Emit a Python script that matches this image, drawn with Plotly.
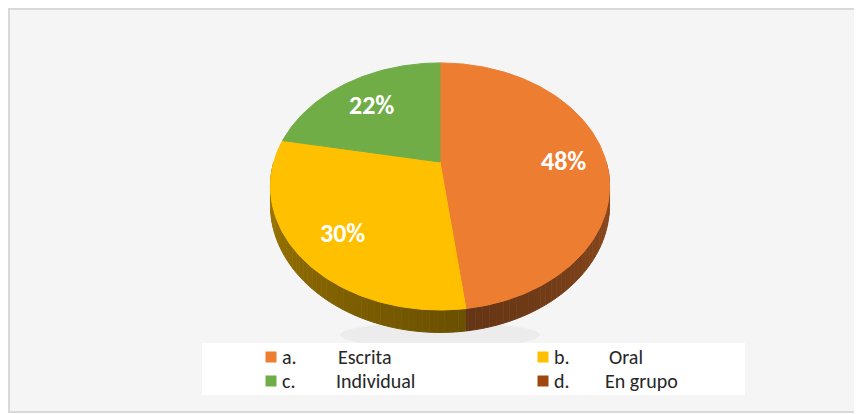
import numpy as np
import plotly.graph_objects as go

# ---- data ----
categories = ["Escrita", "Oral", "Individual", "En grupo"]
letters = ["a.", "b.", "c.", "d."]
values = [48, 30, 22, 0]
colors = ["#ED7D31", "#FFC000", "#70AD47", "#9E480E"]

# ---- layout constants (pixel-mapped axes; page has an 8px body margin) ----
W, H = 862, 414
OFF = 8
CX, CY = 440, 162          # pie centre (projected)
BX, AY, K = 166.2, 118.7, 0.198   # perspective ellipse params
DEPTH = 18
LABEL_R = 0.74
FONT = "Carlito, Calibri, Lato, sans-serif"


def proj(theta, r=1.0):
    t = np.radians(theta)
    u, v = r * np.sin(t), r * np.cos(t)
    s = 1 + K * v
    return CX + BX * u / s, CY - AY * v / s


def proj_bottom(theta):
    x, y = proj(theta)
    v = np.cos(np.radians(theta))
    return x, y + DEPTH / (1 + K * v)


def hex_rgb(h):
    h = h.lstrip("#")
    return tuple(int(h[i:i + 2], 16) for i in (0, 2, 4))


def shade(hexc, f):
    r, g, b = hex_rgb(hexc)
    return "rgb(%d,%d,%d)" % (r * f, g * f, b * f)


fig = go.Figure()

total = sum(values)
bounds = []
acc = 0.0
for v in values:
    start = acc / total * 360
    acc += v
    end = acc / total * 360
    bounds.append((start, end))

# side walls (front half only)
for (start, end), col, v in zip(bounds, colors, values):
    if v == 0:
        continue
    a0, a1 = max(start, 90), min(end, 270)
    if a1 <= a0:
        continue
    edges = list(np.arange(a0, a1, 2.0)) + [a1]
    for t1, t2 in zip(edges[:-1], edges[1:]):
        ts = np.linspace(t1, t2, 4)
        xt, yt = proj(ts)
        xb, yb = proj_bottom(ts[::-1])
        mid = (t1 + t2) / 2
        f = 0.42 + 0.2 * min(abs(mid - 175), 90) / 85
        c = shade(col, f)
        fig.add_trace(go.Scatter(
            x=list(xt) + list(xb), y=list(yt) + list(yb),
            fill="toself", fillcolor=c, mode="lines",
            line=dict(color=c, width=1), hoverinfo="skip", showlegend=False))

# top faces
for (start, end), col, v, name in zip(bounds, colors, values, categories):
    if v == 0:
        continue
    ts = np.linspace(start, end, max(int(end - start) + 2, 3))
    xs, ys = proj(ts)
    fig.add_trace(go.Scatter(
        x=[CX] + list(xs) + [CX], y=[CY] + list(ys) + [CY],
        fill="toself", fillcolor=col, mode="lines",
        line=dict(color=col, width=1), name=name,
        hoverinfo="skip", showlegend=False))

# percentage labels
for (start, end), v in zip(bounds, values):
    if v == 0:
        continue
    lx, ly = proj((start + end) / 2, LABEL_R)
    fig.add_annotation(x=lx, y=ly, text="<b>%d%%</b>" % v, showarrow=False,
                       font=dict(family=FONT, size=26, color="white"),
                       xanchor="center", yanchor="middle", yshift=-4, xshift=2)

# custom legend
leg_sq_x = [271, 543, 271, 543]
leg_y = [357, 357, 381, 381]
leg_letter_x = [280, 552, 280, 552]
leg_name_x = [336, 607, 334, 603]
fig.add_trace(go.Scatter(
    x=leg_sq_x, y=leg_y, mode="markers",
    marker=dict(symbol="square", size=11, color=colors, line=dict(width=0)),
    hoverinfo="skip", showlegend=False))
for i, (lt, nm) in enumerate(zip(letters, categories)):
    fig.add_annotation(x=leg_letter_x[i], y=leg_y[i], text=lt, showarrow=False,
                       xanchor="left", yanchor="middle",
                       font=dict(family=FONT, size=20, color="#262626"))
    fig.add_annotation(x=leg_name_x[i], y=leg_y[i], text=nm, showarrow=False,
                       xanchor="left", yanchor="middle",
                       font=dict(family=FONT, size=20, color="#262626"))

fig.update_layout(
    width=W - OFF, height=H - OFF,
    margin=dict(l=0, r=0, t=0, b=0),
    paper_bgcolor="white", plot_bgcolor="white",
    xaxis=dict(range=[OFF, W], visible=False, fixedrange=True),
    yaxis=dict(range=[H, OFF], visible=False, fixedrange=True),
    showlegend=False,
    shapes=[
        dict(type="rect", xref="x", yref="y", x0=9, y0=9, x1=855, y1=412,
             fillcolor="#f5f5f5", line=dict(color="#d9d9d9", width=2), layer="below"),
        dict(type="circle", xref="x", yref="y", x0=340, y0=322, x1=540, y1=348,
             fillcolor="rgba(0,0,0,0.035)", line=dict(width=0), layer="below"),
        dict(type="rect", xref="x", yref="y", x0=202, y0=343, x1=745, y1=395,
             fillcolor="white", line=dict(width=0), layer="below"),
    ],
)

fig.write_html("out.html")
